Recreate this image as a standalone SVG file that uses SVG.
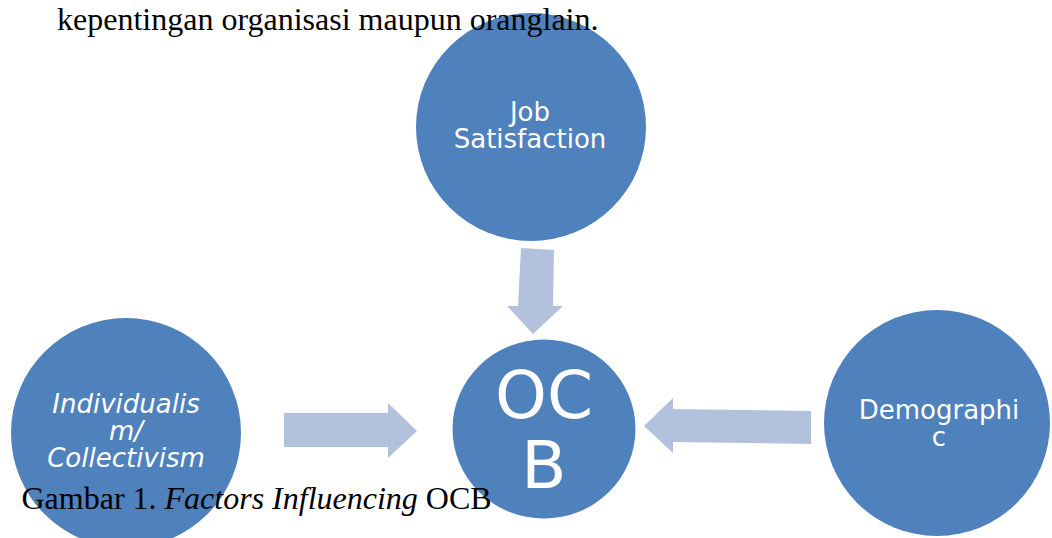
<svg xmlns="http://www.w3.org/2000/svg" width="1052" height="538" viewBox="0 0 1052 538">
<style>
.node{fill:#4F81BD}
.arrow{fill:#B3C2DC}
.lbl{font-family:"DejaVu Sans",sans-serif;fill:#FFFFFF;text-anchor:middle;font-size:26px}
.big{font-size:66px}
.it{font-style:italic}
.body{font-family:"Liberation Serif","Times New Roman",serif;fill:#000000;font-size:32px}
</style>
<rect width="1052" height="538" fill="#FFFFFF"/>
<g id="connectors">
<path class="arrow" d="M284,413 L388,413 L388,403 L417,431 L388,458 L388,447 L284,447 Z"/>
<path class="arrow" d="M811,411 L673,409 L673,398 L644,426 L673,453 L673,442 L811,444 Z"/>
<path class="arrow" d="M521,248 L554,250 L553,306 L563,306 L533,334 L507,306 L518,306 Z"/>
</g>
<g id="node-job">
<ellipse class="node" cx="531" cy="127" rx="115" ry="114"/>
<text class="lbl" x="530" y="121">Job</text>
<text class="lbl" x="530" y="148">Satisfaction</text>
</g>
<g id="node-ocb">
<ellipse class="node" cx="544" cy="429" rx="91.5" ry="89.5"/>
<text class="lbl big" x="544" y="418">OC</text>
<text class="lbl big" x="544" y="488">B</text>
</g>
<g id="node-individualism">
<circle class="node" cx="126" cy="433" r="115"/>
<text class="lbl it" x="126" y="413">Individualis</text>
<text class="lbl it" x="126" y="440">m/</text>
<text class="lbl it" x="126" y="467">Collectivism</text>
</g>
<g id="node-demographic">
<ellipse class="node" cx="937" cy="423" rx="113" ry="113"/>
<text class="lbl" x="939" y="419">Demographi</text>
<text class="lbl" x="939" y="446">c</text>
</g>
<text class="body" x="57" y="29.5">kepentingan organisasi maupun oranglain.</text>
<text class="body" x="21.5" y="509">Gambar 1. <tspan font-style="italic">Factors Influencing</tspan> OCB</text>
</svg>
